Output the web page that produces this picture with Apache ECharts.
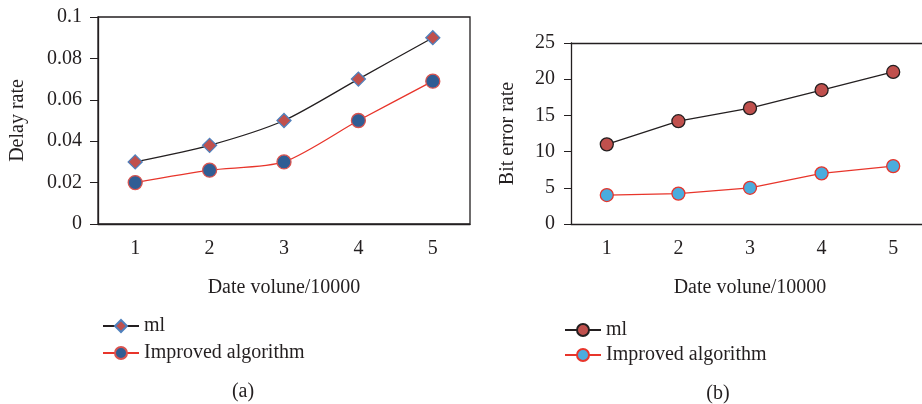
<!DOCTYPE html>
<html>
<head>
<meta charset="utf-8">
<script src="https://cdn.jsdelivr.net/npm/echarts@6/dist/echarts.min.js"></script>
<style>
html,body{margin:0;padding:0;background:#fff;}
#main{width:922px;height:404px;}
</style>
</head>
<body>
<div id="main"></div>
<script>
var categories = ['1', '2', '3', '4', '5'];
var delayMl = [0.03, 0.038, 0.05, 0.07, 0.09];
var delayImproved = [0.02, 0.026, 0.03, 0.05, 0.069];
var errorMl = [11, 14.2, 16, 18.5, 21];
var errorImproved = [4, 4.2, 5, 7, 8];

var font = 'Liberation Serif';
var ink = '#231f20';
var fs = 20;

function xAxisOf(idx) {
    return {
        type: 'category',
        gridIndex: idx,
        data: categories,
        name: 'Date volune/10000',
        nameLocation: 'middle',
        nameGap: 54,
        nameTextStyle: {color: ink, fontFamily: font, fontSize: fs},
        axisLine: {lineStyle: {color: ink, width: 1.3}},
        axisTick: {alignWithLabel: true, length: 7, lineStyle: {color: ink}},
        axisLabel: {color: ink, fontFamily: font, fontSize: fs, margin: 15},
        splitLine: {show: false}
    };
}

var option = {
    animation: false,
    title: [
        {text: '(a)', left: 238, top: 377, textAlign: 'center',
         textStyle: {color: ink, fontFamily: font, fontSize: fs, fontWeight: 'normal'}},
        {text: '(b)', left: 713, top: 379, textAlign: 'center',
         textStyle: {color: ink, fontFamily: font, fontSize: fs, fontWeight: 'normal'}}
    ],
    grid: [
        {left: 98, top: 17, width: 372, height: 207, show: true, borderColor: ink, borderWidth: 1.3,
         outerBoundsMode: 'none'},
        {left: 571, top: 43, width: 358, height: 181, outerBoundsMode: 'none'}
    ],
    legend: [
        {
            orient: 'vertical', left: 97, top: 311, itemWidth: 36, itemHeight: 15, itemGap: 7,
            textStyle: {color: ink, fontFamily: font, fontSize: fs},
            data: ['ml', 'Improved algorithm']
        },
        {
            orient: 'vertical', left: 559, top: 315, itemWidth: 36, itemHeight: 15, itemGap: 5,
            textStyle: {color: ink, fontFamily: font, fontSize: fs},
            data: ['ml ', 'Improved algorithm ']
        }
    ],
    xAxis: [
        xAxisOf(0),
        xAxisOf(1),
        {
            // top frame line of (b)
            type: 'category', gridIndex: 1, position: 'top', data: categories,
            axisLine: {lineStyle: {color: ink, width: 1.3}},
            axisTick: {show: false}, axisLabel: {show: false}, splitLine: {show: false}
        }
    ],
    yAxis: [
        {
            type: 'value', gridIndex: 0, min: 0, max: 0.1, interval: 0.02,
            name: 'Delay rate', nameLocation: 'middle', nameGap: 70,
            nameTextStyle: {color: ink, fontFamily: font, fontSize: fs},
            axisLine: {show: true, lineStyle: {color: ink, width: 1.3}},
            axisTick: {show: true, length: 8, lineStyle: {color: ink}},
            axisLabel: {color: ink, fontFamily: font, fontSize: fs, margin: 16},
            splitLine: {show: false}
        },
        {
            type: 'value', gridIndex: 1, min: 0, max: 25, interval: 5,
            name: 'Bit error rate', nameLocation: 'middle', nameGap: 53,
            nameTextStyle: {color: ink, fontFamily: font, fontSize: fs},
            axisLine: {show: true, lineStyle: {color: ink, width: 1.3}},
            axisTick: {show: true, length: 7, lineStyle: {color: ink}},
            axisLabel: {color: ink, fontFamily: font, fontSize: fs, margin: 16},
            splitLine: {show: false}
        }
    ],
    series: [
        {
            name: 'ml', type: 'line', xAxisIndex: 0, yAxisIndex: 0, smooth: 0.25,
            data: delayMl, symbol: 'diamond', symbolSize: 14,
            lineStyle: {color: ink, width: 1.3},
            itemStyle: {color: '#c0504d', borderColor: '#4f81bd', borderWidth: 1.3}
        },
        {
            name: 'Improved algorithm', type: 'line', xAxisIndex: 0, yAxisIndex: 0, smooth: 0.25,
            data: delayImproved, symbol: 'circle', symbolSize: 14,
            lineStyle: {color: '#e8352b', width: 1.3},
            itemStyle: {color: '#2f5d94', borderColor: '#d9534f', borderWidth: 1.3}
        },
        {
            name: 'ml ', type: 'line', xAxisIndex: 1, yAxisIndex: 1,
            data: errorMl, symbol: 'circle', symbolSize: 13,
            lineStyle: {color: ink, width: 1.3},
            itemStyle: {color: '#c0504d', borderColor: ink, borderWidth: 1.3}
        },
        {
            name: 'Improved algorithm ', type: 'line', xAxisIndex: 1, yAxisIndex: 1,
            data: errorImproved, symbol: 'circle', symbolSize: 13,
            lineStyle: {color: '#e8352b', width: 1.3},
            itemStyle: {color: '#4bacdd', borderColor: '#e8352b', borderWidth: 1.3}
        }
    ]
};

var chart = echarts.init(document.getElementById('main'));
chart.setOption(option);
</script>
</body>
</html>
